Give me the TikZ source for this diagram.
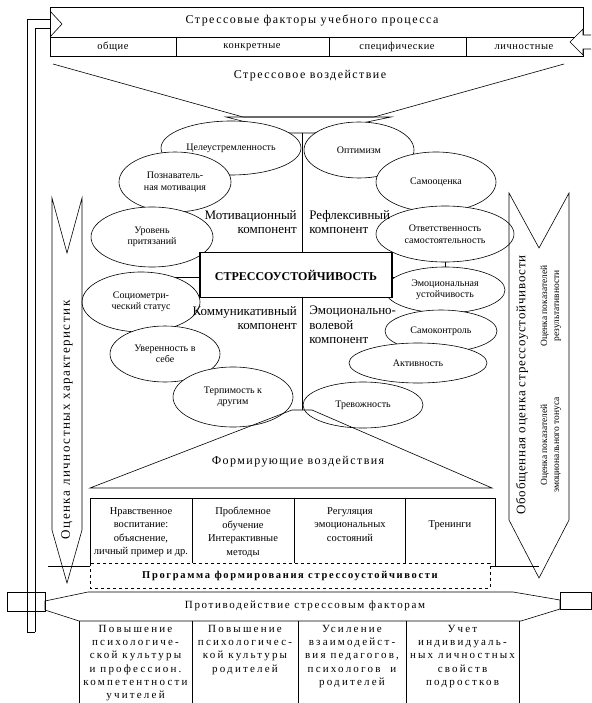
\documentclass[tikz,border=0pt]{standalone}
\usepackage{fontspec}
\setmainfont{Liberation Serif}
\usetikzlibrary{shapes.geometric, backgrounds}

\begin{document}
\begin{tikzpicture}[x=1pt, y=-1pt, line width=0.6pt,
  oval/.style={ellipse, draw, fill=white, inner sep=0pt, align=center, font=\fontsize{10}{11.5}\selectfont},
  comp/.style={inner sep=0pt, font=\fontsize{13}{14.5}\selectfont},
  heading/.style={inner sep=0pt, font=\fontsize{12}{14}\selectfont\addfontfeature{LetterSpace=12}},
  rowtext/.style={inner sep=0pt, font=\fontsize{10.5}{12}\selectfont\addfontfeature{LetterSpace=5}},
  cell/.style={inner sep=0pt, align=center, anchor=north, font=\fontsize{10.5}{13.5}\selectfont},
  bottomcell/.style={inner sep=0pt, align=center, anchor=north, font=\fontsize{11}{13.2}\selectfont\addfontfeature{LetterSpace=20}},
  sidetext/.style={inner sep=0pt, rotate=90, font=\fontsize{13}{15}\selectfont\addfontfeature{LetterSpace=12}},
  smalltext/.style={inner sep=0pt, rotate=90, align=center, font=\fontsize{9.5}{12}\selectfont}
]
\useasboundingbox (0,0) rectangle (591,703);

% stress factors banner
\draw (50,7) rectangle (583,56);
\draw (50,37) -- (583,37);
\foreach \x in {176,329,466} \draw (\x,37) -- (\x,56);
\node[heading] (factors) at (312,21) {Стрессовые факторы учебного процесса};
\node[rowtext] (general) at (113,47) {общие};
\node[rowtext] (concrete) at (252,47) {конкретные};
\node[rowtext] (specific) at (397,47) {специфические};
\node[rowtext] (personal) at (524,47) {личностные};
\draw[fill=white] (591,35) -- (583,35) -- (583,29) -- (570,42) -- (583,55) -- (583,49) -- (591,49);

% feedback bar on the left
\draw (27,632) -- (27,19) -- (50,19);
\draw (35,632) -- (35,28) -- (50,28);
\draw (27,632) -- (35,632);
\draw (50,11) -- (62,24) -- (50,37);

% stress impact funnel
\draw (53,64) -- (243,117) -- (374,117) -- (564,64);
\draw (226,117) -- (391,117) -- (314,133) -- (290,133) -- cycle;
\node[heading] (impact) at (310,76) {Стрессовое воздействие};
\coordinate (topneck) at (302,133);
\coordinate (botneck) at (302,410);
\coordinate (midleft) at (170,277);
\coordinate (midright) at (430,277);
\draw (topneck) -- (botneck);
\draw (midleft) -- (midright);

% components
\node[oval, minimum width=140, minimum height=54] (goal) at (231,148) {Целеустремленность};
\node[oval, minimum width=112, minimum height=60] (cogn) at (175,182) {Познаватель-\\ная мотивация};
\node[oval, minimum width=122, minimum height=60] (claim) at (152,237) {Уровень\\притязаний};
\node[oval, minimum width=118, minimum height=60] (socio) at (141,302) {Социометри-\\ческий статус};
\node[oval, minimum width=110, minimum height=56] (conf) at (165,354) {Уверенность в\\себе};
\node[oval, minimum width=120, minimum height=60] (toler) at (233,397) {Терпимость к\\другим};

\node[oval, minimum width=110, minimum height=56] (optim) at (359,150) {Оптимизм};
\node[oval, minimum width=120, minimum height=60] (selfest) at (436,182) {Самооценка};
\node[oval, minimum width=138, minimum height=56] (resp) at (445,234) {Ответственность\\самостоятельность};
\begin{scope}[on background layer]
\draw (resp) -- (445,290);
\end{scope}
\node[oval, minimum width=120, minimum height=46] (emostab) at (445,290) {Эмоциональная\\устойчивость};
\node[oval, minimum width=112, minimum height=42] (selfctl) at (441,331) {Самоконтроль};
\node[oval, minimum width=138, minimum height=40] (activ) at (418,363) {Активность};
\node[oval, minimum width=120, minimum height=46] (anx) at (363,405) {Тревожность};

\node[draw, line width=1.6pt, fill=white, minimum width=192, minimum height=45, inner sep=0pt,
  font=\bfseries\fontsize{12}{14}\selectfont] (core) at (296,275) {СТРЕССОУСТОЙЧИВОСТЬ};

\node[comp, align=right, anchor=east] (motiv) at (297,222) {Мотивационный\\компонент};
\node[comp, align=left, anchor=west] (reflex) at (309,222) {Рефлексивный\\компонент};
\node[comp, align=right, anchor=east] (commun) at (297,318) {Коммуникативный\\компонент};
\node[comp, align=left, anchor=west] (emot) at (309,325) {Эмоционально-\\волевой\\компонент};

% forming influences
\draw (292,410) -- (312,410) -- (492,488) -- (90,488) -- cycle;
\node[heading] (forming) at (298,462) {Формирующие воздействия};
\draw (90,566) -- (90,498) -- (495,498) -- (495,566);
\foreach \x in {192,294,405} \draw (\x,498) -- (\x,566);
\node[cell] (moral) at (141,507) {Нравственное\\воспитание:\\объяснение,\\личный пример и др.};
\node[cell] (problem) at (243,507) {Проблемное\\обучение\\Интерактивные\\методы};
\node[cell] (regul) at (350,507) {Регуляция\\эмоциональных\\состояний};
\node[cell] (training) at (450,520) {Тренинги};
\draw (48,566) -- (90,566);
\draw (490,566) -- (539,566);
\draw[dashed, fill=white] (90,563) rectangle (490,588);
\node[inner sep=0pt, font=\bfseries\fontsize{10.5}{12}\selectfont\addfontfeature{LetterSpace=16}] (program) at (290,576) {Программа формирования стрессоустойчивости};

% assessment arrows
\draw (52,198) -- (67,253) -- (82,198) -- (82,530) -- (67,583) -- (52,530) -- cycle;
\node[sidetext] (persest) at (67,420) {Оценка личностных характеристик};
\draw (509,193) -- (539,248) -- (569,193) -- (569,520) -- (539,578) -- (509,520) -- cycle;
\node[sidetext, font=\fontsize{13}{15}\selectfont\addfontfeature{LetterSpace=6}] (overall) at (522,385) {Обобщенная оценка стрессоустойчивости};
\node[smalltext] (result) at (551,306) {Оценка показателей\\результативности};
\node[smalltext] (tone) at (551,445) {Оценка показателей\\эмоционального тонуса};

% counteraction
\draw (7,592) rectangle (45,611);
\draw (560,592) rectangle (591,609);
\draw (45,601) -- (88,592) -- (513,592) -- (560,600) -- (560,609) -- (521,621) -- (79,621) -- (45,610) -- cycle;
\node[inner sep=0pt, font=\fontsize{11}{13}\selectfont\addfontfeature{LetterSpace=15}] (counter) at (305,606) {Противодействие стрессовым факторам};
\foreach \x in {79,192,298,406,519} \draw (\x,621) -- (\x,704);
\node[bottomcell] (psyteach) at (135.5,625) {Повышение\\психологиче-\\ской культуры\\и профессион.\\компетентности\\учителей};
\node[bottomcell] (psypar) at (245,625) {Повышение\\психологичес-\\кой культуры\\родителей};
\node[bottomcell] (interact) at (352,625) {Усиление\\взаимодейст-\\вия педагогов,\\психологов~ и\\родителей};
\node[bottomcell] (indiv) at (462.5,625) {Учет\\индивидуаль-\\ных личностных\\свойств\\подростков};
\end{tikzpicture}
\end{document}
